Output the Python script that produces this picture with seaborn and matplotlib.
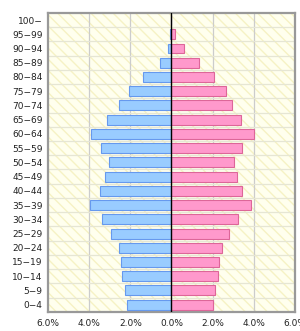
import numpy as np
import pandas as pd
import matplotlib
matplotlib.use("Agg")
import matplotlib.pyplot as plt
import seaborn as sns
from matplotlib.patches import Rectangle

# 年齢階級（上から）
age_groups = ["100−", "95−99", "90−94", "85−89", "80−84", "75−79", "70−74",
              "65−69", "60−64", "55−59", "50−54", "45−49", "40−44", "35−39",
              "30−34", "25−29", "20−24", "15−19", "10−14", "5−9", "0−4"]
# 男性（%）
male = [0.0, 0.05, 0.19, 0.58, 1.36, 2.04, 2.55, 3.12, 3.90, 3.41, 3.02,
        3.22, 3.49, 3.95, 3.36, 2.93, 2.57, 2.47, 2.38, 2.28, 2.15]
# 女性（%）
female = [0.0, 0.19, 0.60, 1.34, 2.09, 2.64, 2.96, 3.40, 4.03, 3.45, 3.03,
          3.17, 3.42, 3.86, 3.22, 2.81, 2.45, 2.31, 2.26, 2.12, 2.02]

df = pd.DataFrame({"age": age_groups, "male": [-v for v in male], "female": female})

sns.set_theme(style="white")
plt.rcParams['font.family'] = ['DejaVu Sans']

fig = plt.figure(figsize=(3.0, 3.31), dpi=100)
ax = fig.add_axes([0.16, 0.058, 0.823, 0.903])

# 背景（斜線）
bg = Rectangle((0, 0), 1, 1, transform=ax.transAxes, facecolor="#ffffee",
               edgecolor="#f6f2c4", hatch="\\\\\\", linewidth=0, zorder=0)
ax.add_patch(bg)

sns.barplot(data=df, x="male", y="age", orient="h", color="#99ccff",
            saturation=1, edgecolor="#6699ee", linewidth=0.8, width=0.7, ax=ax, zorder=3)
sns.barplot(data=df, x="female", y="age", orient="h", color="#ff99cc",
            saturation=1, edgecolor="#dd6699", linewidth=0.8, width=0.7, ax=ax, zorder=3)

ax.set_xlim(-6, 6)
ax.set_ylim(len(age_groups) - 0.5, -0.5)

# 罫線
for x in [-4, -2, 2, 4]:
    ax.axvline(x, color="#cccccc", linewidth=0.9, zorder=1)
for i in range(len(age_groups) - 1):
    ax.axhline(i + 0.5, color="#e6e6d4", linewidth=0.9, zorder=1)
ax.axvline(0, color="black", linewidth=1.0, zorder=4)

ticks = [-6, -4, -2, 0, 2, 4, 6]
ax.set_xticks(ticks)
ax.set_xticklabels([f"{abs(t):.1f}%" for t in ticks], fontsize=6.5, color="#222222")
ax.tick_params(axis="y", labelsize=6.5, labelcolor="#222222", length=0, pad=4)
ax.tick_params(axis="x", length=0, pad=5)
ax.set_xlabel("")
ax.set_ylabel("")

for s in ax.spines.values():
    s.set_visible(True)
    s.set_color("#999999")
    s.set_linewidth(1.6)

fig.savefig("out.png", dpi=100)
